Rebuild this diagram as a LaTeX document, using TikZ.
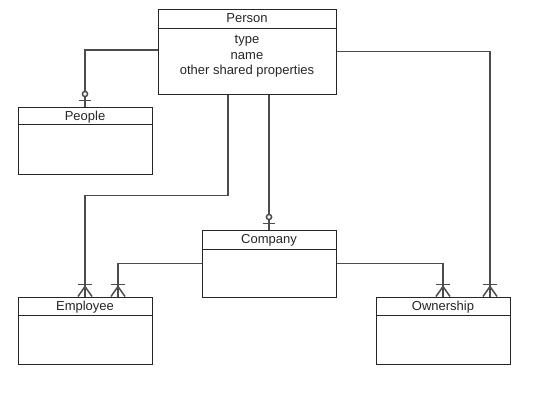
\documentclass[tikz,border=0pt]{standalone}
\usepackage{fontspec}
\setmainfont{Liberation Sans}
\usetikzlibrary{positioning,calc}

% one-or-many end (crow's foot with bar) at a point on top of a box
\newcommand{\manyend}[1]{%
  \draw[link] ($(#1)+(-7,0)$) -- ($(#1)+(0,-10)$) -- ($(#1)+(7,0)$);
  \draw[link] ($(#1)+(-7,-12)$) -- ($(#1)+(7,-12)$);}
% zero-or-one end (circle and bar)
\newcommand{\optend}[1]{%
  \draw[link] ($(#1)+(-6,-6)$) -- ($(#1)+(6,-6)$);
  \draw[link, fill=white] ($(#1)+(0,-12.5)$) circle (2.6pt);}

\begin{document}
\begin{tikzpicture}[x=1pt, y=-1pt]
    % Define styles
    \tikzset{
      entity/.style={rectangle, draw=black!85, line width=1pt, fill=white,
        minimum width=134pt, minimum height=67pt, inner sep=0pt},
      title/.style={font=\fontsize{13}{15}\selectfont, text=black!85,
        text height=9pt, text depth=2.5pt, inner sep=0pt},
      attrs/.style={font=\fontsize{13}{15.5}\selectfont, text=black!85,
        align=center, inner sep=0pt},
      link/.style={draw=black!70, line width=1.5pt},
      headline/.style={draw=black!85, line width=1pt}
    }
    \useasboundingbox (0,0) rectangle (540,405);

    % Entities
    \node[entity, minimum width=178pt, minimum height=85pt] (person) at (247,51.5) {};
    \node[entity] (people) at (85,140.5) {};
    \node[entity] (company) at (269,263.5) {};
    \node[entity] (employee) at (85,330.5) {};
    \node[entity] (ownership) at (443,330.5) {};

    % Headers
    \foreach \e/\t/\h in {person/Person/20, people/People/18,
        company/Company/20, employee/Employee/19, ownership/Ownership/19} {
      \node[title] at ([yshift=-11pt]\e.north) {\t};
      \draw[headline] ([yshift=-\h pt]\e.north west) -- ([yshift=-\h pt]\e.north east);
    }
    \node[attrs] (personattrs) at ([yshift=-48pt]person.north) {type\\name\\other shared properties};

    % Connection end points
    \coordinate (empright) at ([xshift=33pt]employee.north);
    \coordinate (ownright) at ([xshift=47pt]ownership.north);

    % Connections
    \draw[link] ([yshift=1.5pt]person.west) -| (people.north);
    \draw[link] ([xshift=-19pt]person.south) -- ++(0,101) -| (employee.north);
    \draw[link] (person.south -| company.north) -- (company.north);
    \draw[link] (person.east) -| (ownright);
    \draw[link] (company.west) -| (empright);
    \draw[link] (company.east) -| (ownership.north);

    % Ends
    \optend{people.north}
    \optend{company.north}
    \manyend{employee.north}
    \manyend{empright}
    \manyend{ownership.north}
    \manyend{ownright}
\end{tikzpicture}
\end{document}
